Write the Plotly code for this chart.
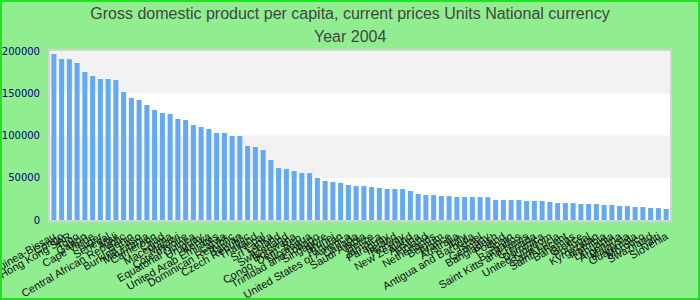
import plotly.graph_objects as go

countries = [
    "Guinea-Bissau", "Congo", "Hong Kong SAR", "Togo", "Gabon", "Cape Verde", "Niger", "Senegal",
    "Mali", "Central African Republic", "Benin", "Burkina Faso", "Mauritania", "Cameroon", "Chad",
    "Macedonia", "Malawi", "Côte d'Ivoire", "Equatorial Guinea", "Uruguay", "Kenya",
    "United Arab Emirates", "Latvia", "Dominican Republic", "Taiwan", "Czech Republic", "Thailand",
    "Nepal", "Sri Lanka", "Iceland", "Switzerland", "Botswana", "Congo, Dem. Rep.", "Nicaragua",
    "Trinidad and Tobago", "Singapore", "Brunei", "Bhutan", "United States of America", "Canada",
    "Saudi Arabia", "Belize", "Jamaica", "Paraguay", "Ireland", "Norway", "New Zealand", "Austria",
    "Finland", "Netherlands", "Belgium", "France", "Australia", "Italy", "Antigua and Barbuda",
    "Israel", "Germany", "Bangladesh", "Poland", "Spain", "Barbados", "Saint Kitts and Nevis",
    "Grenada", "Dominica", "United Kingdom", "Saint Lucia", "Saint Vincent", "Bahamas", "Greece",
    "Portugal", "Kyrgyzstan", "Namibia", "Lithuania", "Argentina", "Malaysia", "Guatemala",
    "Morocco", "Swaziland", "Haiti", "Slovenia",
]

gdp_2004 = [
    196500, 190500, 190300, 185800, 175100, 170400, 166900, 166800, 165700, 151500,
    144400, 142000, 136100, 130200, 126600, 125400, 119500, 118300, 112400, 110000,
    107700, 103000, 102900, 99400, 99300, 87600, 86400, 82800, 71000, 61500,
    60400, 58000, 55600, 55500, 49700, 46200, 45000, 43800, 41400, 40200,
    40100, 39000, 37900, 36700, 36600, 36600, 34300, 30800, 29600, 29500,
    28400, 28300, 27200, 27200, 27100, 27100, 27000, 23700, 23700, 23600,
    23600, 22500, 22500, 22400, 21300, 20100, 20100, 20000, 18900, 18900,
    18800, 17800, 17700, 16600, 16500, 15400, 15300, 14200, 14100, 13000,
]

y_ticks = [0, 50000, 100000, 150000, 200000]
title_text = "Gross domestic product per capita, current prices Units National currency"
subtitle_text = "Year 2004"

fig = go.Figure(go.Bar(x=countries, y=gdp_2004, marker_color="#63aaf2", marker_line_width=0))

shapes = []
for i in range(len(y_ticks) - 1):
    if i % 2 == 1:
        shapes.append(dict(type="rect", xref="paper", yref="y", x0=0, x1=1,
                           y0=y_ticks[i], y1=y_ticks[i + 1], fillcolor="#f2f2f2",
                           line_width=0, layer="below"))

L, R, T, B, W, H = 50, 30, 51, 80, 700, 300
pw, ph = W - L - R, H - T - B
shapes.append(dict(type="rect", xref="paper", yref="paper",
                   x0=-(L - 1) / pw, x1=1 + (R - 1) / pw,
                   y0=-(B - 1) / ph, y1=1 + (T - 1) / ph,
                   line=dict(color="#22e022", width=2), fillcolor="rgba(0,0,0,0)", layer="above"))

title_font = dict(family="Liberation Sans, Arial, sans-serif", size=16, color="#444444")

fig.update_layout(
    width=W, height=H,
    margin=dict(l=L, r=R, t=T, b=B, autoexpand=False),
    paper_bgcolor="#90ee90",
    plot_bgcolor="#ffffff",
    bargap=0.35,
    showlegend=False,
    shapes=shapes,
    title=dict(text=title_text, x=0.5, xanchor="center",
               yref="container", y=1 - 13 / H, yanchor="middle", font=title_font),
    annotations=[dict(text=subtitle_text, xref="paper", yref="paper", x=(W / 2 - L) / pw,
                      y=1 + (T - 36) / ph, xanchor="center", yanchor="middle",
                      showarrow=False, font=title_font)],
    xaxis=dict(type="category", tickmode="linear", dtick=1, tickangle=-30, automargin=False,
               tickfont=dict(family="Liberation Sans, Arial, sans-serif", size=11, color="#111111"),
               showgrid=False, showline=True, linecolor="#d3d3d3", linewidth=2, mirror=True,
               ticks="", ticklabelstandoff=4),
    yaxis=dict(range=[0, 200000], tickvals=y_ticks, tickformat="d", automargin=False,
               tickfont=dict(family="DejaVu Sans, sans-serif", size=10, color="#000080"),
               showgrid=False, zeroline=False, showline=True, linecolor="#d3d3d3",
               linewidth=2, mirror=True, ticks="", ticklabelstandoff=6),
)

fig.write_html("out.html")
